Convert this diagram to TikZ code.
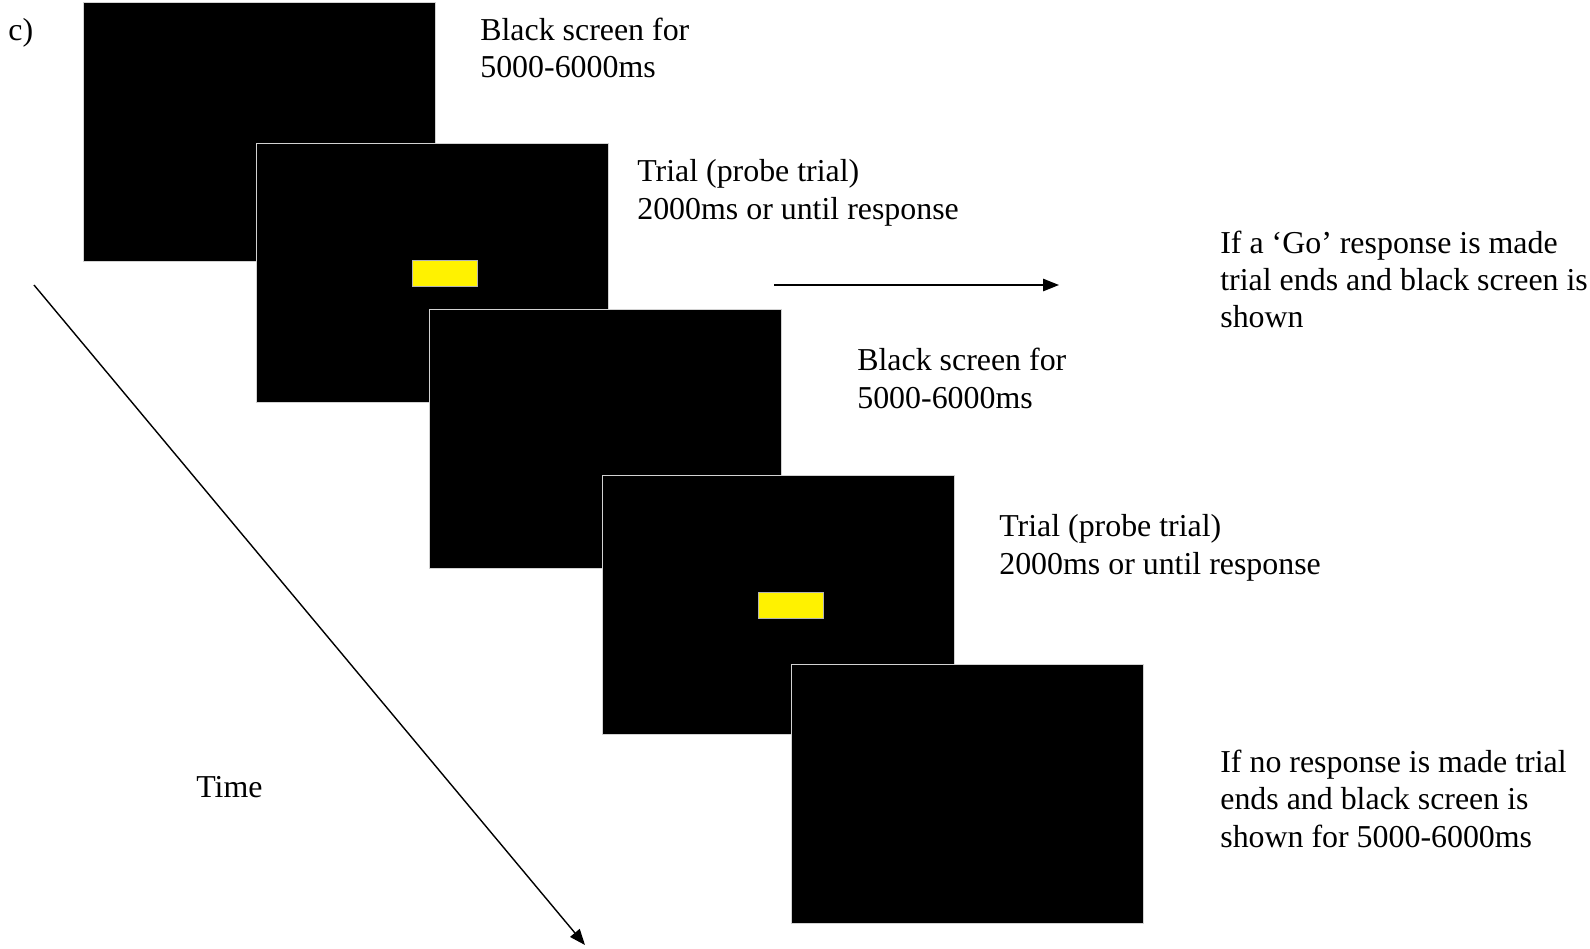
\documentclass[tikz,border=0pt]{standalone}
\usepackage{fontspec}
\setmainfont{Liberation Serif}
\usetikzlibrary{positioning,arrows.meta}

\begin{document}
\begin{tikzpicture}[x=0.02cm,y=-0.02cm,
  screen/.style={draw=gray!35, line width=0.7pt, fill=black, inner sep=0pt, anchor=north west,
    minimum width=7.04cm, minimum height=5.18cm},
  stim/.style={fill=yellow, draw=gray!60, line width=0.3pt, inner sep=0pt,
    minimum width=1.3cm, minimum height=0.52cm},
  notetext/.style={anchor=base west, align=left, inner sep=0pt, font=\fontsize{18.15}{21.2}\selectfont},
  timeline/.style={line width=0.8pt, -{Triangle[length=9pt,width=7pt]}}]
\useasboundingbox (0,0) rectangle (1590,948);
% screens, each one on top of the one before
\node[screen] (blank1) at (83,2) {};
\node[screen] (probe1) at (256,143) {};
\node[stim, xshift=0.25cm] (bar1) at (probe1.center) {};
\node[screen] (blank2) at (429,309) {};
\node[screen] (probe2) at (602,475) {};
\node[stim, xshift=0.25cm] (bar2) at (probe2.center) {};
\node[screen] (blank3) at (791,664) {};
% texts (base = last line)
\node[notetext] (panel) at (8,40) {c)};
\node[notetext] (blanktxt1) at (480,77.5) {Black screen for\\5000-6000ms};
\node[notetext] (probetxt1) at (637,219) {Trial (probe trial)\\2000ms or until response};
\node[notetext] (gotxt) at (1220,327.5) {If a ‘Go’ response is made\\trial ends and black screen is\\shown};
\node[notetext] (blanktxt2) at (857,408) {Black screen for\\5000-6000ms};
\node[notetext] (probetxt2) at (999,574) {Trial (probe trial)\\2000ms or until response};
\node[notetext] (nogotxt) at (1220,847) {If no response is made trial\\ends and black screen is\\shown for 5000-6000ms};
\node[notetext] (timetxt) at (196,797.5) {Time};
% arrows
\coordinate (t0) at (34,285);
\coordinate (t1) at (585,945);
\draw[timeline] (t0) -- (t1);
\coordinate (g0) at (774,285);
\coordinate (g1) at (1059,285);
\draw[timeline] (g0) -- (g1);
\end{tikzpicture}
\end{document}
